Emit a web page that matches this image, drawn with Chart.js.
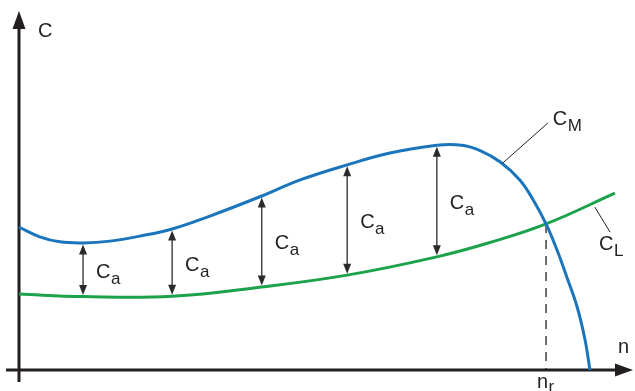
<!DOCTYPE html>
<html>
<head>
<meta charset="utf-8">
<script src="https://cdn.jsdelivr.net/npm/chart.js@4/dist/chart.umd.min.js"></script>
<style>
  html, body { margin: 0; padding: 0; background: #fff; }
  canvas { display: block; }
</style>
</head>
<body>
<canvas id="chart" width="635" height="391"></canvas>
<script>
// Motor torque curve C_M (blue), load torque curve C_L (green)
const motorN = [0, 3.4, 6.7, 10.5, 14.9, 19.8, 25.1, 31.3, 39.8, 46.1, 53.8, 60.8, 68.5, 72.6, 75.6, 78.9, 82.1, 84.3, 86.4, 88.2, 89.8, 91.5, 92.8, 93.6];
const motorC = [39.9, 37.2, 35.8, 35.5, 36.0, 37.4, 39.4, 43.0, 48.6, 53.1, 57.3, 60.6, 62.8, 62.8, 61.3, 58.1, 53.1, 47.5, 40.8, 33.5, 26.0, 17.6, 8.4, 0];

const loadN = [0, 10.5, 25.1, 39.8, 53.8, 68.5, 77.2, 86.4, 97.7];
const loadC = [21.2, 20.5, 20.6, 23.2, 26.5, 31.6, 35.6, 40.8, 49.4];

// Accelerating torque arrows C_a (between the two curves)
const caN = [10.5, 25.1, 39.8, 53.8, 68.5];
const caTop = [35.5, 39.4, 48.6, 57.3, 62.8];
const caBottom = [20.5, 20.6, 23.2, 26.5, 31.6];

// Operating point n_r
const nr = 86.4;
const cr = 40.8;

const ink = "#231f20";
const blue = "#1a75bc";
const green = "#1ba24a";

const toPoints = (xs, ys) => xs.map((x, i) => ({ x: x, y: ys[i] }));

function drawArrowHead(ctx, x, y, dx, dy, len, half) {
  // tip at (x, y), pointing in direction (dx, dy)
  ctx.beginPath();
  ctx.moveTo(x, y);
  ctx.lineTo(x - dx * len - dy * half, y - dy * len + dx * half);
  ctx.lineTo(x - dx * len + dy * half, y - dy * len - dx * half);
  ctx.closePath();
  ctx.fill();
}

function drawSub(ctx, x, y, main, sub, size, subSize, subDrop) {
  ctx.font = size + "px 'Liberation Sans', Arial, sans-serif";
  ctx.fillText(main, x, y);
  const w = ctx.measureText(main).width;
  ctx.font = subSize + "px 'Liberation Sans', Arial, sans-serif";
  ctx.fillText(sub, x + w + 0.5, y + subDrop);
}

const diagram = {
  id: "diagram",
  beforeDatasetsDraw(chart) {
    const ctx = chart.ctx;
    const sx = chart.scales.x;
    const sy = chart.scales.y;
    const x0 = sx.getPixelForValue(0);
    const y0 = sy.getPixelForValue(0);
    ctx.save();
    ctx.strokeStyle = ink;
    ctx.fillStyle = ink;
    ctx.lineWidth = 3;
    // axes
    ctx.beginPath();
    ctx.moveTo(x0, y0 + 12);
    ctx.lineTo(x0, 26);
    ctx.moveTo(6, y0);
    ctx.lineTo(618, y0);
    ctx.stroke();
    drawArrowHead(ctx, x0, 11, 0, -1, 18, 6.5);
    drawArrowHead(ctx, 633, y0, 1, 0, 18, 6.5);

    // dashed line at n_r
    ctx.lineWidth = 1.3;
    ctx.setLineDash([9, 7]);
    ctx.beginPath();
    ctx.moveTo(sx.getPixelForValue(nr), sy.getPixelForValue(cr));
    ctx.lineTo(sx.getPixelForValue(nr), y0);
    ctx.stroke();
    ctx.setLineDash([]);
    ctx.restore();
  },
  afterDatasetsDraw(chart) {
    const ctx = chart.ctx;
    const sx = chart.scales.x;
    const sy = chart.scales.y;
    ctx.save();
    ctx.strokeStyle = "#2b2b2b";
    ctx.fillStyle = "#2b2b2b";
    ctx.textBaseline = "alphabetic";

    // C_a arrows and labels
    caN.forEach((n, i) => {
      const px = sx.getPixelForValue(n);
      const top = sy.getPixelForValue(caTop[i]) + 1.5;
      const bot = sy.getPixelForValue(caBottom[i]) - 1.5;
      ctx.lineWidth = 1.3;
      ctx.beginPath();
      ctx.moveTo(px, top + 6);
      ctx.lineTo(px, bot - 6);
      ctx.stroke();
      drawArrowHead(ctx, px, top, 0, -1, 10, 4);
      drawArrowHead(ctx, px, bot, 0, 1, 10, 4);
      ctx.fillStyle = ink;
      drawSub(ctx, px + 13, (top + bot) / 2 + 8, "C", "a", 20, 17, 6);
      ctx.fillStyle = "#2b2b2b";
    });

    // leader lines for curve names
    ctx.lineWidth = 1;
    ctx.strokeStyle = ink;
    ctx.beginPath();
    ctx.moveTo(sx.getPixelForValue(79.3), sy.getPixelForValue(57.8));
    ctx.lineTo(sx.getPixelForValue(86.7), sy.getPixelForValue(69.0));
    ctx.moveTo(sx.getPixelForValue(94.4), sy.getPixelForValue(45.5));
    ctx.lineTo(sx.getPixelForValue(96.9), sy.getPixelForValue(38.5));
    ctx.stroke();

    ctx.fillStyle = ink;
    drawSub(ctx, sx.getPixelForValue(87.5), sy.getPixelForValue(68.4), "C", "M", 20, 17, 6);
    drawSub(ctx, sx.getPixelForValue(95.1), sy.getPixelForValue(33.5), "C", "L", 20, 17, 6);

    // axis names
    ctx.font = "20px 'Liberation Sans', Arial, sans-serif";
    ctx.fillText("C", sx.getPixelForValue(3.1), sy.getPixelForValue(93.0));
    ctx.fillText("n", sx.getPixelForValue(98.2), sy.getPixelForValue(4.7));
    drawSub(ctx, sx.getPixelForValue(84.9), sy.getPixelForValue(-5.0), "n", "r", 20, 17, 4);
    ctx.restore();
  }
};

new Chart(document.getElementById("chart"), {
  type: "scatter",
  data: {
    datasets: [
      {
        label: "C_M",
        data: toPoints(motorN, motorC),
        showLine: true,
        borderColor: blue,
        borderWidth: 3,
        pointRadius: 0,
        tension: 0.4,
        clip: false,
      },
      {
        label: "C_L",
        data: toPoints(loadN, loadC),
        showLine: true,
        borderColor: green,
        borderWidth: 3,
        pointRadius: 0,
        tension: 0.4,
        clip: false,
      },
    ],
  },
  options: {
    responsive: false,
    animation: false,
    layout: { padding: { left: 19, right: 6, top: 12, bottom: 21 } },
    scales: {
      x: { type: "linear", min: 0, max: 100, display: false },
      y: { type: "linear", min: 0, max: 100, display: false },
    },
    plugins: {
      legend: { display: false },
      tooltip: { enabled: false },
    },
  },
  plugins: [diagram],
});
</script>
</body>
</html>
